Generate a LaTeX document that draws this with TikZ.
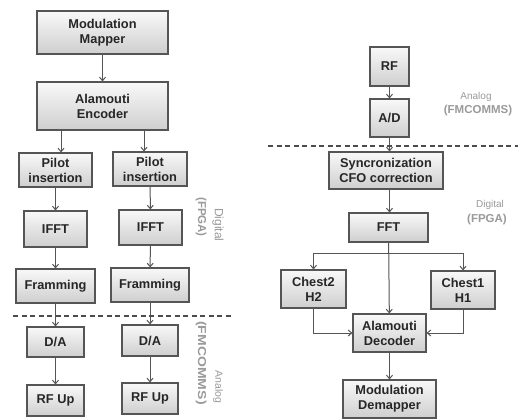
\documentclass[tikz,border=0pt]{standalone}
\usepackage{fontspec}
\setmainfont{Liberation Sans}
\usetikzlibrary{arrows.meta,shadows}
\definecolor{lineg}{HTML}{555555}
\definecolor{labg}{HTML}{9A9A9A}
\tikzset{
  blk/.style={draw=lineg, line width=1.1pt, top color=gray!5, bottom color=gray!38,
    inner sep=0pt, align=center, text=black!85,
    font=\fontsize{12.8}{15}\selectfont\bfseries,
    drop shadow={opacity=0.25, shadow xshift=1pt, shadow yshift=1pt}},
  arr/.style={draw=lineg, line width=1pt, -{Straight Barb[length=3.5pt,width=6pt]}},
  sep/.style={draw=black!70, line width=1.6pt, dash pattern=on 5pt off 3.5pt},
  lreg/.style={text=labg, inner sep=0pt, font=\fontsize{10}{12}\selectfont},
  lbold/.style={text=labg, inner sep=0pt, font=\fontsize{11.5}{13}\selectfont\bfseries},
}
\begin{document}
\begin{tikzpicture}[x=1pt,y=-1pt]
\useasboundingbox[fill=white] (0,0) rectangle (518,419);
% left (transmitter)
\node[blk, minimum width=131, minimum height=43] (mm) at (102.5,32.5) {Modulation\\Mapper};
\node[blk, minimum width=131, minimum height=48] (ae) at (102.5,106) {Alamouti\\Encoder};
\node[blk, minimum width=73, minimum height=34] (pl) at (55.5,170) {Pilot\\insertion};
\node[blk, minimum width=74, minimum height=34] (pr) at (150,169) {Pilot\\insertion};
\node[blk, minimum width=63, minimum height=36] (il) at (55.5,229) {IFFT};
\node[blk, minimum width=63, minimum height=35] (ir) at (150.5,227.5) {IFFT};
\node[blk, minimum width=79, minimum height=34] (fl) at (55.5,286) {Framming};
\node[blk, minimum width=78, minimum height=34] (fr) at (150,285) {Framming};
\node[blk, minimum width=57, minimum height=30] (dl) at (55.5,342) {D/A};
\node[blk, minimum width=56, minimum height=31] (dr) at (150,340.5) {D/A};
\node[blk, minimum width=57, minimum height=31] (rl) at (55.5,400.5) {RF Up};
\node[blk, minimum width=56, minimum height=31] (rr) at (150,398.5) {RF Up};
\draw[arr] (mm) -- (ae);
\draw[arr] ([xshift=-41.5pt]ae.south) -- ([xshift=-41.5pt]ae.south |- pl.north);
\draw[arr] ([xshift=41.5pt]ae.south) -- ([xshift=41.5pt]ae.south |- pr.north);
\draw[arr] (pl) -- (il);
\draw[arr] (pr) -- (ir);
\draw[arr] (il) -- (fl);
\draw[arr] (ir) -- (fr);
\draw[arr] (fl) -- (dl);
\draw[arr] (fr) -- (dr);
\draw[arr] (dl) -- (rl);
\draw[arr] (dr) -- (rr);
\coordinate (lsa) at (13,316);
\coordinate (lsb) at (232,316);
\draw[sep] (lsa) -- (lsb);
\node[lreg, rotate=-90, font=\fontsize{12}{14}\selectfont] (ldig) at (218,225) {Digital};
\node[lbold, rotate=-90] (lfpga) at (201,217) {(FPGA)};
\node[lreg, rotate=-90, font=\fontsize{10.5}{12}\selectfont] (lana) at (218,387) {Analog};
\node[lbold, rotate=-90] (lfmc) at (201,363) {\scalebox{1.22}[1]{(FMCOMMS)}};
% right (receiver)
\node[blk, minimum width=39, minimum height=39] (rf) at (389.5,66.5) {RF};
\node[blk, minimum width=39, minimum height=38] (ad) at (389.5,118) {A/D};
\node[blk, minimum width=114, minimum height=37] (sy) at (386,170.5) {Syncronization\\CFO correction};
\node[blk, minimum width=79, minimum height=29] (fft) at (388.5,227.5) {FFT};
\node[blk, minimum width=65, minimum height=38] (c2) at (313.5,289) {Chest2\\H2};
\node[blk, minimum width=64, minimum height=38] (c1) at (463,290) {Chest1\\H1};
\node[blk, minimum width=73, minimum height=38] (dec) at (389.5,333) {Alamouti\\Decoder};
\node[blk, minimum width=93, minimum height=38] (dm) at (389.5,399) {Modulation\\Demapper};
\draw[arr] (rf) -- (ad);
\draw[arr] (ad) -- (ad.south |- sy.north);
\draw[arr] (ad.south |- sy.south) -- (ad.south |- fft.north);
\coordinate (fj) at (389.5,253);
\draw[arr] (fft) -- (dec);
\draw[arr] (fj) -| (c2.north);
\draw[arr] (fj) -| (c1.north);
\draw[arr] (c2.south) |- (dec.west);
\draw[arr] (c1.south) |- (dec.east);
\draw[arr] (dec) -- (dm);
\coordinate (rsa) at (268,146);
\coordinate (rsb) at (518,146);
\draw[sep] (rsa) -- (rsb);
\node[lreg] (rana) at (476,97) {Analog};
\node[lbold] (rfmc) at (478,111) {(FMCOMMS)};
\node[lreg] (rdig) at (490,205) {Digital};
\node[lbold] (rfpga) at (487,220) {(FPGA)};
\end{tikzpicture}
\end{document}
